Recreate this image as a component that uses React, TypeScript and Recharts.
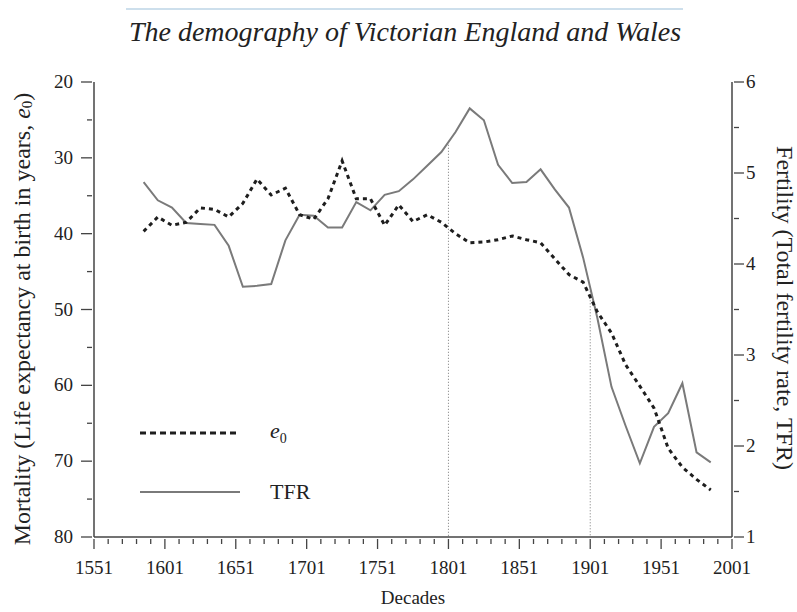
import { LineChart, Line, XAxis, YAxis, ReferenceLine } from 'recharts';

// decade mid-points (years)
const decades = [
    1586, 1596, 1606, 1616, 1626, 1636, 1646, 1656, 1666, 1676,
    1686, 1696, 1706, 1716, 1726, 1736, 1746, 1756, 1766, 1776,
    1786, 1796, 1806, 1816, 1826, 1836, 1846, 1856, 1866, 1876,
    1886, 1896, 1906, 1916, 1926, 1936, 1946, 1956, 1966, 1976, 1986,
];

// e0, life expectancy at birth (left axis, reversed)
const lifeExpectancy = [
    39.7, 37.8, 38.9, 38.5, 36.6, 36.8, 37.8, 36.0, 32.8, 34.9,
    34.0, 37.5, 38.1, 35.4, 30.4, 35.4, 35.4, 38.9, 36.2, 38.4,
    37.5, 38.5, 40.0, 41.2, 41.1, 40.8, 40.3, 40.8, 41.2, 43.3,
    45.4, 46.4, 50.3, 53.1, 57.3, 60.1, 63.0, 68.3, 70.8, 72.4, 73.8,
];

// TFR, total fertility rate (right axis)
const fertility = [
    4.90, 4.70, 4.62, 4.45, 4.44, 4.43, 4.20, 3.75, 3.76, 3.78,
    4.26, 4.54, 4.53, 4.40, 4.40, 4.68, 4.59, 4.76, 4.80, 4.93,
    5.08, 5.23, 5.45, 5.71, 5.58, 5.09, 4.89, 4.90, 5.04, 4.82,
    4.62, 4.07, 3.41, 2.65, 2.22, 1.81, 2.21, 2.36, 2.69, 1.93, 1.82,
];

const xMajorTicks = [1551, 1601, 1651, 1701, 1751, 1801, 1851, 1901, 1951, 2001];
const leftMajorTicks = [20, 30, 40, 50, 60, 70, 80];
const rightMajorTicks = [1, 2, 3, 4, 5, 6];

// dotted markers at 1801 and 1901 (top end sits on the TFR line)
const markerYears = [1801, 1901];
const markerTops = [5.31, 3.7];

const data = decades.map((year, i) => ({ year, e0: lifeExpectancy[i], tfr: fertility[i] }));

// minor ticks every 10 years / 5 years / 0.5
const xTicks = Array.from({ length: 46 }, (_, i) => 1551 + i * 10);
const leftTicks = Array.from({ length: 13 }, (_, i) => 20 + i * 5);
const rightTicks = Array.from({ length: 11 }, (_, i) => 1 + i * 0.5);

const axisColor = '#444';
const font = '"Liberation Serif", "Times New Roman", serif';
const textColor = '#222';

const XTick = (props: any) => {
    const { x, y, payload } = props;
    const major = xMajorTicks.includes(payload.value);
    return (
        <g>
            <line x1={x} y1={y} x2={x} y2={y + (major ? 10 : 5)} stroke={axisColor} strokeWidth={1.3} />
            {major && (
                <text x={x} y={y + 35} textAnchor="middle" fontFamily={font} fontSize={19} fill={textColor}>
                    {payload.value}
                </text>
            )}
        </g>
    );
};

const LeftTick = (props: any) => {
    const { x, y, payload } = props;
    const major = leftMajorTicks.includes(payload.value);
    return (
        <g>
            <line x1={x - (major ? 11 : 5)} y1={y} x2={x} y2={y} stroke={axisColor} strokeWidth={1.3} />
            {major && (
                <text x={x - 19} y={y + 6} textAnchor="end" fontFamily={font} fontSize={19} fill={textColor}>
                    {payload.value}
                </text>
            )}
        </g>
    );
};

const RightTick = (props: any) => {
    const { x, y, payload } = props;
    const major = rightMajorTicks.includes(payload.value);
    return (
        <g>
            <line x1={x} y1={y} x2={x + (major ? 10 : 5)} y2={y} stroke={axisColor} strokeWidth={1.3} />
            {major && (
                <text x={x + 12} y={y + 6} textAnchor="start" fontFamily={font} fontSize={19} fill={textColor}>
                    {payload.value}
                </text>
            )}
        </g>
    );
};

export default function App() {
    return (
        <div style={{ position: 'absolute', left: 0, top: 0, width: 797, height: 612, background: '#fff' }}>
            <LineChart width={797} height={612} data={data} margin={{ top: 82, right: 15, bottom: 35, left: 34 }}>
                <XAxis
                    dataKey="year"
                    type="number"
                    domain={[1551, 2001]}
                    ticks={xTicks}
                    interval={0}
                    height={40}
                    tickSize={0}
                    tickLine={false}
                    tick={<XTick />}
                    axisLine={{ stroke: axisColor, strokeWidth: 1.5 }}
                />
                <YAxis
                    yAxisId="left"
                    orientation="left"
                    reversed
                    domain={[20, 80]}
                    ticks={leftTicks}
                    interval={0}
                    width={60}
                    tickSize={0}
                    tickLine={false}
                    tick={<LeftTick />}
                    axisLine={{ stroke: axisColor, strokeWidth: 1.5 }}
                />
                <YAxis
                    yAxisId="right"
                    orientation="right"
                    domain={[1, 6]}
                    ticks={rightTicks}
                    interval={0}
                    width={50}
                    tickSize={0}
                    tickLine={false}
                    tick={<RightTick />}
                    axisLine={{ stroke: axisColor, strokeWidth: 1.5 }}
                />
                {markerYears.map((yr, i) => (
                    <ReferenceLine
                        key={yr}
                        yAxisId="right"
                        segment={[{ x: yr, y: markerTops[i] }, { x: yr, y: 1 }]}
                        stroke="#777"
                        strokeWidth={1}
                        strokeDasharray="1 2"
                    />
                ))}
                <Line
                    yAxisId="right"
                    dataKey="tfr"
                    type="linear"
                    stroke="#7a7a7a"
                    strokeWidth={2}
                    dot={false}
                    isAnimationActive={false}
                />
                <Line
                    yAxisId="left"
                    dataKey="e0"
                    type="linear"
                    stroke="#1e1e1e"
                    strokeWidth={3}
                    strokeDasharray="4 4"
                    dot={false}
                    isAnimationActive={false}
                />
            </LineChart>

            <svg width={797} height={612} style={{ position: 'absolute', left: 0, top: 0, pointerEvents: 'none' }}>
                <line x1={126} y1={9} x2={683} y2={9} stroke="#bcd4e6" strokeWidth={1.5} />
                <text x={405} y={41} textAnchor="middle" fontFamily={font} fontStyle="italic" fontSize={28} fill="#222">
                    The demography of Victorian England and Wales
                </text>
                <text
                    x={22}
                    y={319}
                    transform="rotate(-90 22 319)"
                    textAnchor="middle"
                    dominantBaseline="central"
                    fontFamily={font}
                    fontSize={24}
                    fill={textColor}
                >
                    Mortality (Life expectancy at birth in years, <tspan fontStyle="italic">e</tspan>
                    <tspan fontSize={15} dy={5}>0</tspan>
                    <tspan dy={-5}>)</tspan>
                </text>
                <text
                    x={785}
                    y={308}
                    transform="rotate(90 785 308)"
                    textAnchor="middle"
                    dominantBaseline="central"
                    fontFamily={font}
                    fontSize={24}
                    fill={textColor}
                >
                    Fertility (Total fertility rate, TFR)
                </text>
                <text x={413} y={604} textAnchor="middle" fontFamily={font} fontSize={19} fill={textColor}>
                    Decades
                </text>

                {/* legend */}
                <line x1={140} y1={433} x2={238} y2={433} stroke="#1e1e1e" strokeWidth={3} strokeDasharray="6 4" />
                <text x={270} y={438} fontFamily={font} fontSize={22} fill={textColor}>
                    <tspan fontStyle="italic">e</tspan>
                    <tspan fontSize={14} dy={5}>0</tspan>
                </text>
                <line x1={140} y1={492} x2={240} y2={492} stroke="#7a7a7a" strokeWidth={2} />
                <text x={270} y={499} fontFamily={font} fontSize={22} fill={textColor}>
                    TFR
                </text>
            </svg>
        </div>
    );
}
